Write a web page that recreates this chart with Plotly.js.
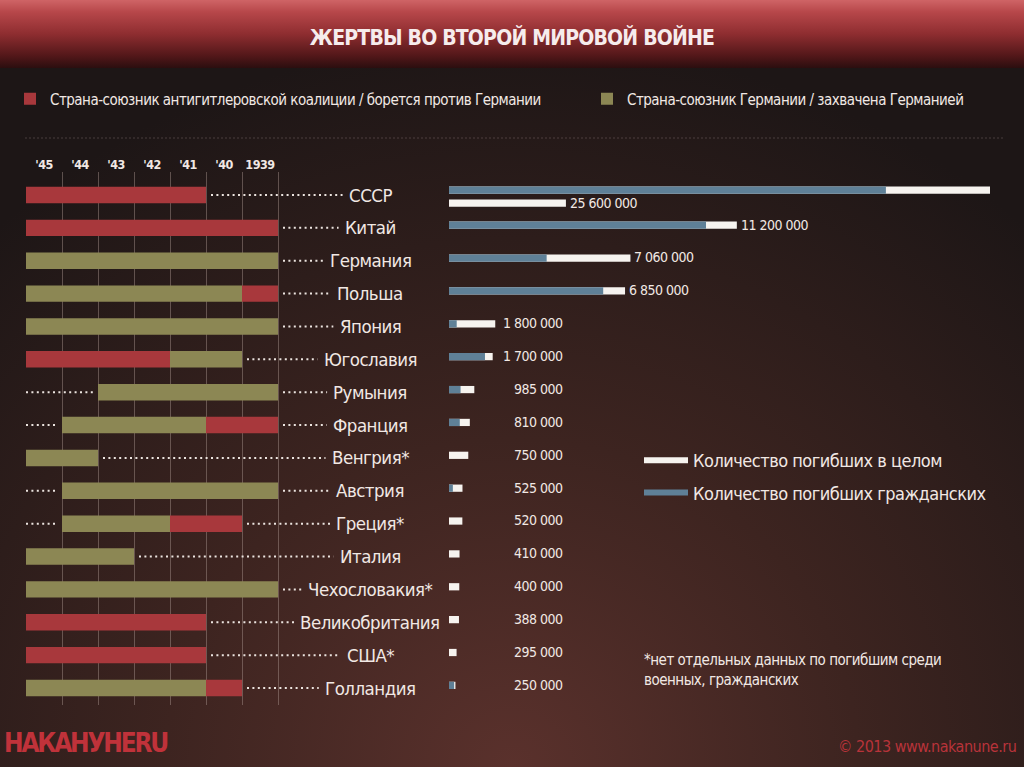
<!DOCTYPE html>
<html><head><meta charset="utf-8">
<script src="https://cdn.plot.ly/plotly-3.0.1.min.js"></script>
<style>
html,body{margin:0;padding:0;width:1024px;height:767px;overflow:hidden;}
body{background:
 linear-gradient(to bottom, #cf6466 0px, #b7474a 12px, #8e2d30 34px, #521719 56px, #2b0e0f 68px) top left/100% 68px no-repeat,
 radial-gradient(ellipse 75% 95% at 50% 100%, #5a312c 0%, #3d2420 45%, #1d1616 100%);}
#chart{width:1024px;height:767px;}
text{letter-spacing:-0.5px;}
.gtitle{letter-spacing:-0.8px;}
</style></head><body><div id="chart"></div>
<script>
// ---------------- DATA ----------------
const countries = ['СССР','Китай','Германия','Польша','Япония','Югославия','Румыния','Франция','Венгрия*','Австрия','Греция*','Италия','Чехословакия*','Великобритания','США*','Голландия'];
// years fighting against Germany (red), first and last year inclusive
const allyFrom = [1941,1939,null,1939,null,1942,null,1939,null,null,1940,null,null,1941,1941,1940];
const allyTo   = [1945,1945,null,1939,null,1945,null,1940,null,null,1941,null,null,1945,1945,1940];
// years allied with / occupied by Germany (olive), first and last year inclusive
const axisFrom = [null,null,1939,1940,1939,1940,1939,1941,1944,1939,1942,1943,1939,null,null,1941];
const axisTo   = [null,null,1945,1945,1945,1941,1943,1944,1945,1944,1944,1945,1945,null,null,1945];
const yearTicks  = [1939,1940,1941,1942,1943,1944,1945];
const yearLabels = ['1939',"'40","'41","'42","'43","'44","'45"];
const totalDeaths    = [25600000,11200000,7060000,6850000,1800000,1700000,985000,810000,750000,525000,520000,410000,400000,388000,295000,250000];
const civilianDeaths = [17000000,10000000,3800000,6000000,300000,1400000,450000,420000,null,150000,null,null,null,null,null,200000];

// ---------------- LAYOUT CONSTANTS ----------------
const W = 1024, H = 767;
const FONT = "'Liberation Sans Narrow','DejaVu Sans Condensed','Arial Narrow',sans-serif";
const TXT = '#f1e8e4';
const RED = '#a8383c', OLIVE = '#8c8754', WHITE = '#f6f3ef', BLUE = '#5f8097';
const PX_PER_YEAR = 36.0;
const LEFT_PX = [26, 450];
const YEAR_END = 1946;
const yearRange = [YEAR_END, YEAR_END - (LEFT_PX[1]-LEFT_PX[0]) / PX_PER_YEAR];
const LABEL_YEAR = YEAR_END - (370 - LEFT_PX[0]) / PX_PER_YEAR;
const GAP_Y = 5 / PX_PER_YEAR;
const RIGHT_PX = [449, 990];
const PX_PER_M = 25.7;
const XMAX = (RIGHT_PX[1]-RIGHT_PX[0]) / PX_PER_M * 1e6;
const VALUE_COL = (565 - RIGHT_PX[0]) / PX_PER_M * 1e6;
const ROW_TOP_PX = 172, ROW_BOT_PX = 705, ROW0_PX = 195, ROWN_PX = 688;
const ROW_PX = (ROWN_PX - ROW0_PX) / (countries.length - 1);
const yRange = [countries.length - 1 + (ROW_BOT_PX - ROWN_PX)/ROW_PX, -(ROW0_PX - ROW_TOP_PX)/ROW_PX];
const LABEL_SIZE = 18.5, VALUE_SIZE = 14;

const rows = countries.map((_, i) => i);
const NS = 'http://www.w3.org/2000/svg';
const msvg = document.createElementNS(NS, 'svg');
msvg.setAttribute('style', 'position:absolute;left:-9999px;top:0;width:10px;height:10px');
document.body.appendChild(msvg);
function textWidth(t, size){
  const el = document.createElementNS(NS, 'text');
  el.setAttribute('style', 'font-family:' + FONT + ';font-size:' + size + 'px;letter-spacing:-0.5px');
  el.textContent = t; msvg.appendChild(el);
  const w = el.getComputedTextLength(); msvg.removeChild(el); return w;
}
function fmt(n){ return String(n).replace(/\B(?=(\d{3})+(?!\d))/g, ' '); }

// ---------------- TRACES ----------------
const traces = [];
traces.push({type:'bar', orientation:'h', name:'Страна-союзник антигитлеровской коалиции / борется против Германии',
  y: rows, base: allyFrom, x: allyFrom.map((f,i)=> f==null?null:allyTo[i]+1-f),
  marker:{color:RED}, width:0.5, xaxis:'x', yaxis:'y', legend:'legend', hoverinfo:'skip'});
traces.push({type:'bar', orientation:'h', name:'Страна-союзник Германии / захвачена Германией',
  y: rows, base: axisFrom, x: axisFrom.map((f,i)=> f==null?null:axisTo[i]+1-f),
  marker:{color:OLIVE}, width:0.5, xaxis:'x', yaxis:'y', legend:'legend3', hoverinfo:'skip'});

// dotted leaders
const lx = [], ly = [];
countries.forEach((c,i)=>{
  const starts = [allyFrom[i], axisFrom[i]].filter(v=>v!=null);
  const ends = [allyTo[i], axisTo[i]].filter(v=>v!=null).map(v=>v+1);
  const right = Math.min(...starts), left = Math.max(...ends);
  const w = textWidth(c, LABEL_SIZE);
  lx.push(right - GAP_Y, LABEL_YEAR + (w/2 + 6)/PX_PER_YEAR, null); ly.push(i, i, null);
  if (left < YEAR_END) { lx.push(YEAR_END, left + GAP_Y, null); ly.push(i, i, null); }
});
traces.push({type:'scatter', mode:'lines', x:lx, y:ly, xaxis:'x', yaxis:'y', showlegend:false, hoverinfo:'skip',
  line:{color:'#ece4df', width:2, dash:'2px,3.4px'}});

// right bars
const offs = totalDeaths.map(t => t > XMAX ? -0.26 : -0.19);
traces.push({type:'bar', orientation:'h', y:rows, x: totalDeaths.map(t=>Math.min(t,XMAX)), offset:offs, width:0.22,
  marker:{color:WHITE}, xaxis:'x2', yaxis:'y', showlegend:false, hoverinfo:'skip'});
traces.push({type:'bar', orientation:'h', y:rows, x: totalDeaths.map(t=> t > XMAX ? t - XMAX : null), offset:0.14, width:0.22,
  marker:{color:WHITE}, xaxis:'x2', yaxis:'y', showlegend:false, hoverinfo:'skip'});
traces.push({type:'bar', orientation:'h', y:rows, x: civilianDeaths.map(v=> v==null?null:Math.min(v,XMAX)), offset:offs, width:0.22,
  marker:{color:BLUE}, xaxis:'x2', yaxis:'y', showlegend:false, hoverinfo:'skip'});
// legend-only entries for right chart
traces.push({type:'scatter', mode:'lines', x:[null], y:[null], name:'Количество погибших в целом', legend:'legend2', legendgroup:'a',
  line:{color:WHITE, width:6}, xaxis:'x2', yaxis:'y'});
traces.push({type:'scatter', mode:'lines', x:[null], y:[null], name:'Количество погибших гражданских', legend:'legend2', legendgroup:'b',
  line:{color:BLUE, width:6}, xaxis:'x2', yaxis:'y'});

// ---------------- ANNOTATIONS ----------------
const annotations = [];
countries.forEach((c,i)=>{
  annotations.push({xref:'x', yref:'y', x:LABEL_YEAR, y:i, text:c, showarrow:false, xanchor:'center', yanchor:'middle',
    font:{family:FONT, size:LABEL_SIZE, color:TXT}});
  const t = totalDeaths[i];
  const vf = {family:FONT, size:VALUE_SIZE, color:TXT};
  if (t > XMAX) {
    annotations.push({xref:'x2', yref:'y', x:t - XMAX, y:i+0.25, text:fmt(t), showarrow:false, xanchor:'left', xshift:2, yanchor:'middle', font:vf});
  } else if (t > VALUE_COL) {
    annotations.push({xref:'x2', yref:'y', x:t, y:i-0.1, text:fmt(t), showarrow:false, xanchor:'left', xshift:2, yanchor:'middle', font:vf});
  } else {
    annotations.push({xref:'x2', yref:'y', x:VALUE_COL, y:i-0.1, text:fmt(t), showarrow:false, xanchor:'right', yanchor:'middle', font:vf});
  }
});
annotations.push({xref:'paper', yref:'paper', x:642/W, y:1-649/H, xanchor:'left', yanchor:'top', align:'left', showarrow:false,
  text:'*нет отдельных данных по погибшим среди<br>военных, гражданских', font:{family:FONT, size:15, color:TXT}});
annotations.push({xref:'paper', yref:'paper', x:2/W, y:1-760/H, xanchor:'left', yanchor:'bottom', showarrow:false,
  text:'<span style="letter-spacing:-2.2px">НАКАНУНЕRU</span>', font:{family:FONT, size:26, color:'#c0323a', weight:'bold'}});
annotations.push({xref:'paper', yref:'paper', x:1018/W, y:1-758/H, xanchor:'right', yanchor:'bottom', showarrow:false,
  text:'© 2013 www.nakanune.ru', font:{family:FONT, size:16, color:'#b8333a'}});

const layout = {
  width:W, height:H, margin:{l:0,r:0,t:0,b:0},
  paper_bgcolor:'rgba(0,0,0,0)', plot_bgcolor:'rgba(0,0,0,0)',
  barmode:'overlay', hovermode:false,
  title:{text:'ЖЕРТВЫ ВО ВТОРОЙ МИРОВОЙ ВОЙНЕ', x:0.5, xanchor:'center', y:1-38/H, yanchor:'middle', yref:'paper',
    font:{family:FONT, size:21, color:'#f6ecec', weight:'bold'}},
  font:{family:FONT, color:TXT},
  xaxis:{domain:[LEFT_PX[0]/W, LEFT_PX[1]/W], range:yearRange, side:'top', anchor:'y',
    tickmode:'array', tickvals:yearTicks.map(v=>v+0.5), ticktext:yearLabels, ticks:'', showgrid:false, zeroline:false, showline:false,
    tickfont:{family:FONT, size:12.5, color:TXT, weight:'bold'}, ticklabelstandoff:0,
    minor:{tickmode:'array', tickvals:yearTicks, showgrid:true, gridcolor:'rgba(170,150,145,0.45)', gridwidth:1, ticks:''}},
  xaxis2:{domain:[RIGHT_PX[0]/W, RIGHT_PX[1]/W], range:[0, XMAX], anchor:'y', showgrid:false, zeroline:false, showline:false, showticklabels:false},
  yaxis:{domain:[1-ROW_BOT_PX/H, 1-ROW_TOP_PX/H], range:yRange, showgrid:false, zeroline:false, showticklabels:false, showline:false},
  legend:{orientation:'h', x:10/W, y:1-99/H, xanchor:'left', yanchor:'middle', bgcolor:'rgba(0,0,0,0)',
    font:{family:FONT, size:15, color:TXT}},
  legend3:{orientation:'h', x:587/W, y:1-99/H, xanchor:'left', yanchor:'middle', bgcolor:'rgba(0,0,0,0)',
    font:{family:FONT, size:15, color:TXT}},
  legend2:{orientation:'v', x:639/W, y:1-442/H, xanchor:'left', yanchor:'top', traceorder:'grouped', tracegroupgap:6, itemwidth:44,
    bgcolor:'rgba(0,0,0,0)', font:{family:FONT, size:18, color:TXT}},
  shapes:[{type:'line', xref:'paper', yref:'paper', x0:25/W, x1:1005/W, y0:1-138/H, y1:1-138/H, line:{color:'rgba(200,180,175,0.25)', width:1, dash:'2px,2px'}}],
  annotations: annotations
};
Plotly.newPlot('chart', traces, layout, {staticPlot:true, displayModeBar:false});
</script></body></html>
